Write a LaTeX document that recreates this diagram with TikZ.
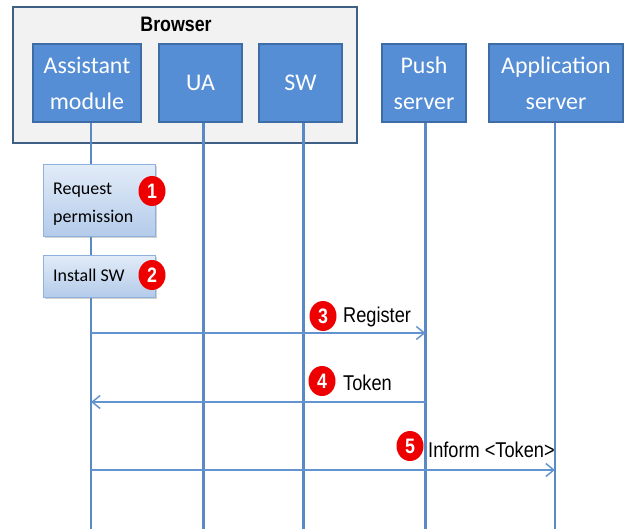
\documentclass[tikz,border=0pt]{standalone}
\usepackage{fontspec}
\setmainfont{Carlito}
\newfontfamily\arialf[FakeStretch=0.85]{Liberation Sans}
\usetikzlibrary{arrows.meta,shadows,shapes.geometric}
\definecolor{actfill}{HTML}{558ED5}
\definecolor{actdraw}{HTML}{3D6CA6}
\definecolor{brfill}{HTML}{F2F2F2}
\definecolor{brdraw}{HTML}{3F5F85}
\definecolor{lifec}{HTML}{5A8AC6}
\definecolor{msgc}{HTML}{6494CF}
\definecolor{steptop}{HTML}{E2ECF8}
\definecolor{stepbot}{HTML}{B4CBEA}
\definecolor{stepdraw}{HTML}{8DB0DD}
\definecolor{badgec}{HTML}{EE0000}
\tikzset{
  actor/.style={draw=actdraw, line width=2bp, fill=actfill, text=white, inner sep=0pt,
    minimum height=78bp, align=center, font=\fontsize{24}{36}\selectfont},
  browserbox/.style={draw=brdraw, line width=2.5bp, fill=brfill},
  lifeline/.style={draw=lifec, line width=2.5bp},
  stepbox/.style={draw=stepdraw, line width=1bp, top color=steptop, bottom color=stepbot,
    drop shadow={shadow xshift=1.5bp, shadow yshift=-1.5bp, opacity=0.35}},
  steptext/.style={anchor=base west, inner sep=0pt, font=\fontsize{18}{28}\selectfont, text=black},
  badge/.style={ellipse, fill=badgec, text=white, inner sep=0pt, minimum width=27bp,
    minimum height=30bp, font=\arialf\bfseries\fontsize{21}{21}\selectfont},
  msg/.style={draw=msgc, line width=1.5bp, -{Straight Barb[length=8bp,width=13bp,line width=1.5bp]}},
  msgtext/.style={anchor=base west, inner sep=0pt, font=\arialf\fontsize{21.5}{24}\selectfont, text=black},
}
\begin{document}
\begin{tikzpicture}[x=1bp,y=-1bp]
\useasboundingbox (0,0) rectangle (625,529);
% browser frame
\node[browserbox, minimum width=344bp, minimum height=136bp, inner sep=0pt] (browser) at (185,75) {};
\node[anchor=base, inner sep=0pt, font=\arialf\bfseries\fontsize{21}{24}\selectfont] (brlabel) at (176,31.5) {Browser};
% actors
\node[actor, minimum width=108bp] (am) at (87,83) {Assistant\\module};
\node[actor, minimum width=83bp] (ua) at (200.5,83) {UA};
\node[actor, minimum width=83bp] (sw) at (300.5,83) {SW};
\node[actor, minimum width=84bp] (ps) at (424,83) {Push\\server};
\node[actor, minimum width=134bp] (as) at (556,83) {Application\\server};
% lifeline ends
\coordinate (amT) at (91,123);   \coordinate (amB) at (91,529);
\coordinate (uaT) at (203.5,123); \coordinate (uaB) at (203.5,529);
\coordinate (swT) at (303.5,123); \coordinate (swB) at (303.5,529);
\coordinate (psT) at (425.5,123); \coordinate (psB) at (425.5,529);
\coordinate (asT) at (555,123);  \coordinate (asB) at (555,529);
\foreach \l in {am,ua,sw,ps,as} { \draw[lifeline] (\l T) -- (\l B); }
% steps on assistant module
\node[stepbox, minimum width=112bp, minimum height=71bp, inner sep=0pt] (req) at (99,200.5) {};
\node[steptext] (reqt) at (53,195) {Request};
\node[steptext] (reqt2) at (53,223) {permission};
\node[stepbox, minimum width=112bp, minimum height=42bp, inner sep=0pt] (inst) at (99,276) {};
\node[steptext] (instt) at (53,281) {Install SW};
\node[badge] (b1) at (152,191) {1};
\node[badge] (b2) at (152,275) {2};
% messages
\coordinate (m3a) at (91,333);  \coordinate (m3b) at (425.5,333);
\coordinate (m4a) at (425.5,402); \coordinate (m4b) at (91,402);
\coordinate (m5a) at (91,470);  \coordinate (m5b) at (555,470);
\draw[msg] (m3a) -- (m3b);
\draw[msg] (m4a) -- (m4b);
\draw[msg] (m5a) -- (m5b);
\node[badge] (b3) at (323,316) {3};
\node[msgtext] (t3) at (343,322) {Register};
\node[badge] (b4) at (322,381) {4};
\node[msgtext] (t4) at (343,390) {Token};
\node[badge] (b5) at (410,446) {5};
\node[msgtext] (t5) at (428,457) {Inform <Token>};
\end{tikzpicture}
\end{document}
